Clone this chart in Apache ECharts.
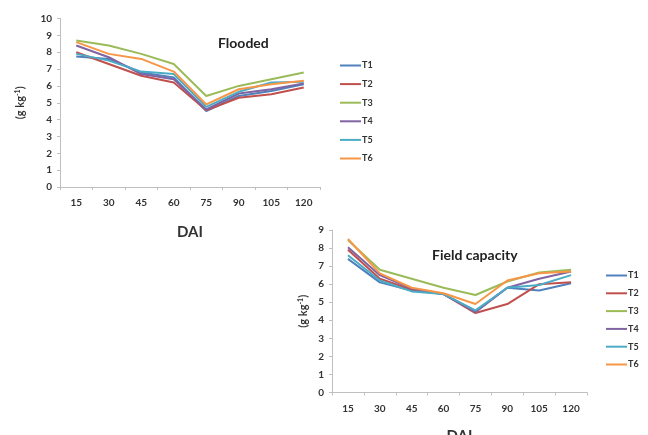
<!DOCTYPE html>
<html>
<head>
<meta charset="utf-8">
<script src="https://cdn.jsdelivr.net/npm/echarts@6/dist/echarts.min.js"></script>
<style>
  html, body { margin: 0; padding: 0; background: #fff; }
  #chart { width: 648px; height: 435px; }
</style>
</head>
<body>
<div id="chart"></div>
<script>
// Days after incubation
const categories = ['15', '30', '45', '60', '75', '90', '105', '120'];
const treatments = ['T1', 'T2', 'T3', 'T4', 'T5', 'T6'];
const colors = ['#4F81BD', '#C0504D', '#9BBB59', '#8064A2', '#4BACC6', '#F79646'];

// Flooded condition (g kg-1)
const floodT1 = [7.75, 7.6, 6.8, 6.5, 4.5, 5.4, 5.7, 6.1];
const floodT2 = [8.0, 7.3, 6.6, 6.2, 4.55, 5.3, 5.5, 5.9];
const floodT3 = [8.7, 8.4, 7.9, 7.3, 5.4, 6.0, 6.4, 6.8];
const floodT4 = [8.4, 7.7, 6.7, 6.4, 4.6, 5.55, 5.8, 6.15];
const floodT5 = [7.9, 7.5, 6.85, 6.7, 4.75, 5.65, 6.2, 6.25];
const floodT6 = [8.6, 7.9, 7.6, 6.85, 4.9, 5.8, 6.1, 6.3];

// Field capacity condition (g kg-1)
const fieldT1 = [7.4, 6.1, 5.65, 5.45, 4.5, 5.8, 5.65, 6.05];
const fieldT2 = [7.9, 6.3, 5.7, 5.45, 4.4, 4.9, 6.0, 6.1];
const fieldT3 = [8.45, 6.8, 6.3, 5.8, 5.4, 6.15, 6.65, 6.8];
const fieldT4 = [8.05, 6.5, 5.75, 5.45, 4.45, 5.8, 6.3, 6.7];
const fieldT5 = [7.6, 6.2, 5.6, 5.45, 4.55, 5.8, 5.95, 6.5];
const fieldT6 = [8.5, 6.6, 5.8, 5.5, 4.9, 6.2, 6.6, 6.7];

const yTicksFlood = { min: 0, max: 10, interval: 1 };
const yTicksField = { min: 0, max: 9, interval: 1 };

const floodData = [floodT1, floodT2, floodT3, floodT4, floodT5, floodT6];
const fieldData = [fieldT1, fieldT2, fieldT3, fieldT4, fieldT5, fieldT6];

const FONT = 'Lato, "Open Sans", sans-serif';
const axisColor = '#bfbfbf';
const labelColor = '#333333';

function xAxisFor(gridIndex, nameGap) {
  return {
    type: 'category', gridIndex, data: categories, boundaryGap: true,
    axisLine: { lineStyle: { color: axisColor, width: 1 } },
    axisTick: { show: true, length: 3, lineStyle: { color: axisColor } },
    axisLabel: { color: labelColor, fontFamily: FONT, fontWeight: 'bold', fontSize: 10, margin: 11 },
    name: 'DAI', nameLocation: 'middle', nameGap: nameGap,
    nameTextStyle: { color: '#333', fontFamily: FONT, fontWeight: 'bold', fontSize: 15 }
  };
}

function yAxisFor(gridIndex, ticks, nameGap) {
  return {
    type: 'value', gridIndex, min: ticks.min, max: ticks.max, interval: ticks.interval,
    splitLine: { show: false },
    axisLine: { show: true, lineStyle: { color: axisColor, width: 1 } },
    axisTick: { show: true, length: 3, lineStyle: { color: axisColor } },
    axisLabel: { color: labelColor, fontFamily: FONT, fontWeight: 'bold', fontSize: 10, margin: 8 },
    name: '{n|(g kg}{s|-1}{n|)}', nameLocation: 'middle', nameGap: nameGap, nameRotate: 90,
    nameTextStyle: {
      rich: {
        n: { color: '#333', fontFamily: FONT, fontWeight: 'bold', fontSize: 11 },
        s: { color: '#333', fontFamily: FONT, fontWeight: 'bold', fontSize: 7, verticalAlign: 'top', padding: [0, 0, 6, 0] }
      }
    }
  };
}

function legendFor(left, top, gap) {
  return {
    orient: 'vertical', left, top, itemWidth: 21, itemHeight: 2, itemGap: gap,
    icon: 'rect',
    data: treatments,
    textStyle: { color: labelColor, fontFamily: FONT, fontWeight: 'bold', fontSize: 9, padding: [0, 0, 0, -4] },
    selectedMode: false
  };
}

const series = [];
treatments.forEach((name, i) => {
  series.push({
    name, type: 'line', xAxisIndex: 0, yAxisIndex: 0, data: floodData[i],
    symbol: 'none', lineStyle: { width: 2, color: colors[i] }, itemStyle: { color: colors[i] }
  });
  series.push({
    name, type: 'line', xAxisIndex: 1, yAxisIndex: 1, data: fieldData[i],
    symbol: 'none', lineStyle: { width: 2, color: colors[i] }, itemStyle: { color: colors[i] }
  });
});

const chart = echarts.init(document.getElementById('chart'), null, { renderer: 'canvas' });
chart.setOption({
  animation: false,
  backgroundColor: '#ffffff',
  title: [
    { text: 'Flooded', left: 213, top: 31, textStyle: { color: '#222', fontFamily: FONT, fontWeight: 'bold', fontSize: 14 } },
    { text: 'Field capacity', left: 427, top: 243, textStyle: { color: '#222', fontFamily: FONT, fontWeight: 'bold', fontSize: 14 } }
  ],
  grid: [
    { left: 60, top: 18.5, width: 260, height: 168.5, outerBoundsMode: 'none' },
    { left: 332, top: 230, width: 255, height: 162.5, outerBoundsMode: 'none' }
  ],
  xAxis: [xAxisFor(0, 38), xAxisFor(1, 36)],
  yAxis: [yAxisFor(0, yTicksFlood, 33), yAxisFor(1, yTicksField, 22)],
  legend: [legendFor(335, 56, 9.6), legendFor(601, 266, 8.8)],
  series
});
</script>
</body>
</html>
